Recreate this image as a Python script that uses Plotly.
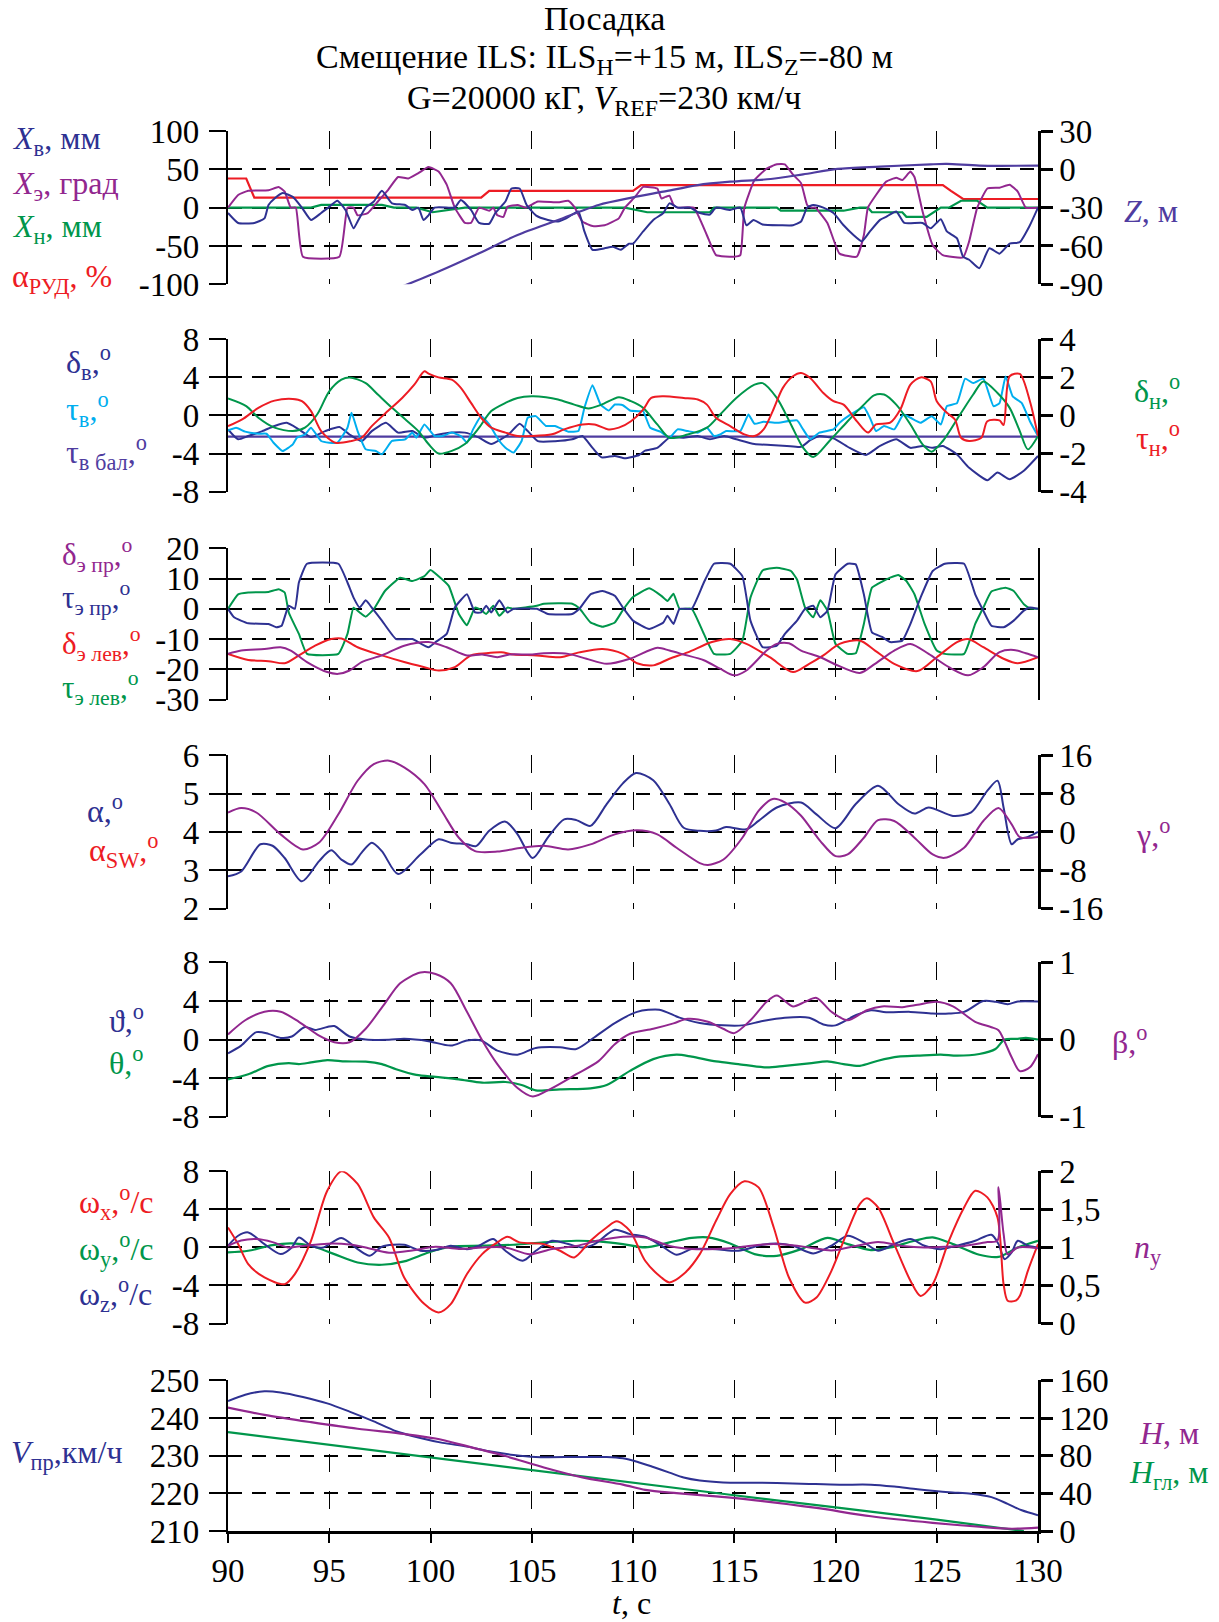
import plotly.graph_objects as go

# ---------------- DATA ----------------
# Panel 1
p1_xv = [(90,-7),(90.5,-20),(91.3,-20),(91.8,-14),(92.0,3.5),(92.3,12),(92.7,19),(93.2,14),(93.65,0),(94.1,-16),(94.6,-7),(95.0,1),(95.4,9),(95.8,-3),(96.2,-27),(96.4,-18),(96.8,0),(97.2,8),(97.6,22),(98.1,5.6),(98.75,3.5),(99.1,-3),(99.4,0),(99.65,-16),(99.9,-10),(100.2,0),(100.9,0),(101.2,0),(101.5,10),(102.0,-3),(102.4,-20),(102.9,-21),(103.2,-7),(103.7,8),(104.0,25),(104.4,25),(104.75,3.5),(105.2,-10),(105.8,-16),(106.3,-18),(106.7,-14),(107.3,-5),(107.6,-31),(108.0,-55),(108.6,-53),(109.0,-51),(109.4,-55),(109.8,-47),(110.0,-47),(110.5,-31),(111.0,-16),(111.5,-7),(111.8,5.6),(112.2,0),(112.8,0),(113.3,-7),(113.8,-9),(114.1,0),(114.8,-3),(115.3,0),(115.6,-23),(115.95,-16),(116.4,-22),(117.3,-23),(117.9,-23),(118.3,-18),(118.6,0),(118.9,3.5),(119.4,0),(119.9,-7),(120.4,-23),(120.9,-36),(121.3,-44),(121.7,-31),(122.2,-16),(122.5,-12),(123.0,-5),(123.4,-20),(124.3,-20),(124.7,-27),(125.2,-15),(125.5,-31),(126.0,-40),(126.3,-64),(126.6,-68),(127.1,-79),(127.6,-53),(128.1,-60),(128.6,-47),(129.1,-45),(129.6,-23),(130,0)]
p1_xe = [(90,0),(90.5,16.5),(91.0,22),(92.0,22.6),(92.5,27),(92.8,21),(93.1,0),(93.35,0),(93.7,-64),(95.5,-64),(95.9,0),(96.2,0),(96.4,-10),(96.9,-7),(97.4,8),(97.9,23),(98.4,40),(98.9,38),(99.4,45),(99.9,53),(100.4,47),(100.8,30),(101.2,0),(101.7,-20),(102.0,-20),(102.4,0),(102.9,-4),(103.1,0),(103.3,-10),(103.6,-12),(103.8,1),(104.3,3.5),(104.7,0),(105.3,8),(106.3,7),(106.8,9),(107.1,1),(107.5,-18),(108.0,-24),(108.6,-23),(109.3,-14),(109.6,0),(110.1,14),(110.5,27),(111.2,25),(111.4,12),(111.6,14),(111.8,15.6),(112.0,3.5),(112.2,0),(113.0,0),(113.65,-36),(114.1,-62),(115.0,-64),(115.3,-62),(115.5,0),(116.0,36),(116.6,51),(117.1,56.5),(117.5,56.5),(117.9,43),(118.3,32),(118.6,3.5),(118.8,0),(119.0,0),(119.6,-20),(120.2,-60),(121.05,-64),(121.4,-36),(121.6,0),(122.0,16.5),(122.5,34),(123.0,39),(123.3,36),(123.7,47),(123.9,40),(124.3,-5),(124.8,-49),(125.3,-62),(126.3,-65),(126.6,-44),(127.0,0),(127.5,25),(128.1,26),(128.6,30),(129.0,21),(129.4,0),(130,0)]
p1_xn = [(90,0),(94.1,0),(94.6,3.5),(97.6,3.5),(98.2,0),(99.3,0),(100.1,-6),(100.7,-4),(101.7,0),(109.6,0),(110.7,-6),(113.8,-6),(114.0,0),(117.1,0),(117.3,-4),(120.4,-4),(121.2,0),(121.6,0),(121.8,-6),(123.3,-6),(123.5,-12),(124.5,-12),(125.2,0),(125.6,0),(126.2,9),(127.0,9),(127.5,0),(130,0)]
p1_arud = [(90,38),(90.9,38),(91.3,13),(102.5,13),(102.9,22),(110.0,22),(110.4,29.5),(125.3,29.5),(125.7,22),(126.3,11.3),(130,11.3)]
p1_z = [(98.4,-93),(100.4,-80),(102.4,-65.7),(104.3,-51.4),(106.3,-39.7),(108.3,-27.9),(110.0,-22),(111.5,-17.5),(113.2,-12.3),(114.8,-9.7),(116.8,-7.6),(118.4,-3.9),(120.1,0.3),(122.2,2.1),(124.7,3.9),(125.5,4.2),(127.1,2.9),(130,2.9)]

# Panel 2
p2_dv = [(90,-1.46),(90.5,-2.5),(91.0,-2.16),(91.7,-1.64),(92.3,-1.1),(92.9,-0.77),(93.5,-1.46),(94.1,-2.26),(94.8,-1.64),(95.5,-1.22),(96.0,-2.0),(96.6,-2.7),(97.1,-1.64),(97.8,-0.77),(98.4,-1.8),(99.1,-1.64),(99.7,-2.33),(100.4,-2.0),(101.05,-1.8),(101.7,-1.8),(102.4,-2.33),(103.0,-3.0),(103.85,-2.0),(104.4,-0.87),(104.8,-1.64),(105.3,-2.7),(106.15,-2.7),(107.0,-2.5),(107.5,-2.16),(108.0,-3.4),(108.45,-4.4),(109.1,-4.25),(109.6,-4.5),(110.3,-4.15),(110.6,-3.7),(111.2,-3.4),(111.8,-2.33),(112.5,-2.33),(113.2,-2.16),(113.8,-2.5),(114.5,-2.16),(115.1,-2.5),(116.0,-3.0),(116.8,-3.1),(117.6,-3.2),(118.3,-3.3),(118.75,-2.6),(119.2,-2.16),(119.9,-2.4),(120.7,-3.4),(121.5,-4.15),(122.2,-3.2),(123.0,-2.5),(123.7,-3.4),(124.3,-3.2),(124.8,-3.4),(125.3,-3.2),(126.0,-4.1),(126.6,-5.5),(127.5,-6.8),(128.0,-6.0),(128.6,-6.7),(129.3,-5.8),(130,-4.25)]
p2_tv = [(90,-1.57),(90.4,-1.29),(90.85,-1.7),(91.5,-1.92),(91.9,-1.92),(92.25,-2.86),(92.7,-3.73),(93.2,-3.03),(93.4,-2.33),(93.8,-2.0),(94.1,-1.29),(94.6,-2.68),(95.0,-2.86),(95.4,-2.86),(95.9,-1.29),(96.1,0.28),(96.4,-1.64),(96.8,-3.55),(97.3,-3.73),(97.6,-4.08),(98.1,-2.68),(98.75,-2.5),(99.1,-1.8),(99.3,-2.33),(99.7,-0.94),(100.2,-2.16),(100.6,-2.16),(101.05,-1.8),(101.5,-2.16),(101.8,-2.86),(102.1,-1.46),(102.5,-0.07),(102.9,-0.94),(103.4,-2.68),(103.7,-3.38),(104.1,-3.9),(104.5,-2.68),(104.8,-0.24),(105.2,-0.07),(105.7,-1.1),(106.15,-1.1),(106.8,-1.7),(107.3,-1.64),(107.6,0.8),(108.0,3.17),(108.4,1.15),(108.8,0.52),(109.1,1.15),(109.5,1.08),(109.85,0.52),(110.3,0.45),(110.5,0.45),(110.85,-1.29),(111.35,-1.7),(111.8,-2.33),(112.2,-1.46),(112.7,-1.64),(113.2,-1.8),(113.65,-1.29),(114.0,-2.16),(114.3,-2.0),(114.6,-1.64),(115.3,-1.64),(115.7,0.1),(116.0,-0.87),(116.45,-0.66),(117.1,-0.77),(118.1,-0.52),(118.4,-1.46),(118.75,-2.5),(119.2,-1.8),(119.9,-1.46),(120.2,-0.77),(120.7,0.03),(121.4,0.87),(121.7,-0.24),(122.0,-1.64),(122.4,-1.1),(122.9,-1.46),(123.35,0.1),(123.7,-0.24),(124.2,-0.77),(124.75,-0.07),(125.2,-0.94),(125.5,0.98),(126.0,1.3),(126.4,3.87),(126.8,3.4),(127.3,3.87),(127.8,0.98),(128.1,1.3),(128.4,4.1),(128.75,2.0),(129.2,1.3),(129.6,-0.6),(130,-2.16)]
p2_tvbal = [(90,-2.23),(130,-2.23)]
p2_dn = [(90,0.89),(90.9,0.49),(91.5,-0.12),(92.3,-0.64),(93.2,-0.82),(93.8,-0.64),(94.4,0.05),(95.0,1.27),(95.6,1.88),(96.0,2.0),(96.8,1.7),(97.4,1.1),(98.1,0.4),(98.75,-0.2),(99.4,-0.82),(99.9,-1.5),(100.4,-2.0),(101.05,-1.86),(101.7,-1.5),(102.4,-0.64),(103.0,0.23),(103.7,0.66),(104.3,0.92),(105.0,1.01),(105.7,0.96),(106.3,0.84),(107.1,0.57),(107.8,0.37),(108.45,0.57),(109.3,0.96),(109.9,0.75),(110.5,0.4),(111.2,-0.47),(111.8,-1.17),(112.7,-1.0),(113.65,-0.64),(114.3,0.05),(115.1,0.92),(116.0,1.62),(116.4,1.7),(117.1,0.92),(117.8,-0.47),(118.4,-1.69),(118.9,-2.18),(119.7,-1.34),(120.6,-0.3),(121.4,0.57),(121.9,1.06),(122.4,1.1),(123.0,0.57),(123.7,-0.47),(124.3,-1.52),(124.75,-1.9),(125.3,-1.34),(126.15,0.05),(126.8,1.1),(127.3,1.79),(128.0,1.18),(128.6,0.4),(129.1,-0.82),(129.5,-1.78),(130,-1.08)]
p2_tn = [(90,-0.56),(90.7,-0.21),(91.5,0.4),(92.3,0.78),(93.2,0.87),(93.65,0.75),(94.1,0.23),(94.6,-0.82),(95.3,-1.43),(96.1,-1.34),(96.6,-1.17),(97.1,-0.56),(97.8,0.14),(98.6,0.92),(99.2,1.62),(99.7,2.32),(99.9,2.2),(100.4,2.0),(101.05,1.88),(101.5,1.45),(102.0,0.66),(102.5,-0.12),(103.0,-0.64),(103.7,-0.9),(104.3,-1.08),(105.0,-1.08),(106.0,-0.99),(106.6,-0.73),(107.5,-0.47),(108.1,-0.47),(108.8,-0.73),(109.3,-0.64),(109.9,-0.3),(110.5,0.31),(110.9,0.92),(111.5,1.01),(112.5,0.92),(113.2,0.84),(113.65,0.57),(114.1,-0.12),(114.8,-0.56),(115.5,-0.99),(116.0,-1.08),(116.45,-0.73),(116.9,0.23),(117.4,1.45),(117.9,2.06),(118.3,2.23),(118.75,1.97),(119.4,1.18),(119.9,0.75),(120.4,0.57),(121.05,-0.3),(121.6,-0.9),(122.0,-0.47),(122.7,-0.38),(123.2,0.31),(123.7,1.62),(124.2,2.0),(124.7,1.79),(125.0,0.75),(125.5,0.14),(125.9,-0.21),(126.2,-1.17),(126.6,-1.34),(127.2,-1.17),(127.5,-0.3),(128.1,-0.26),(128.3,-0.5),(128.6,2.06),(129.1,2.18),(129.6,0.75),(130,-1.08)]

# Panel 3
p3_tepr = [(90,0),(90.3,-2.8),(91.0,-4.8),(92.0,-5),(92.4,-6.1),(92.65,-5.6),(93.0,1),(93.3,0),(93.5,8.7),(93.9,14.9),(95.45,14.9),(95.9,8.7),(96.2,3.7),(96.5,0.4),(96.8,2.8),(97.1,0.4),(97.6,-3.9),(98.3,-10),(99.1,-10),(99.9,-12.7),(100.25,-11),(100.8,-8.3),(101.2,0.4),(101.8,4.8),(102.2,-1.2),(102.5,-1.2),(102.75,1),(103.0,-1.2),(103.4,2.8),(103.8,-1.2),(104.1,0),(105.25,0),(105.8,-1.7),(107.0,-1.7),(107.35,0),(107.9,4.8),(108.5,5.9),(109.1,4.3),(109.5,0.4),(110.0,-3.9),(110.8,-6.7),(111.5,-4.5),(111.7,-2.3),(112.0,-5),(112.3,0),(112.9,0),(113.5,8.7),(114.0,14.9),(114.8,14.9),(115.4,10.8),(115.8,-3.9),(116.4,-12.7),(117.1,-12.2),(117.5,-8.3),(118.1,-3.9),(118.5,0),(118.9,1),(119.25,-2.8),(119.6,-0.6),(120.0,11.4),(120.6,14.9),(121.0,14.7),(121.4,4.8),(121.8,-7.8),(122.3,-9.3),(122.7,-11),(123.3,-10.5),(123.7,-5),(124.2,3.7),(124.8,12.5),(125.4,14.9),(126.35,14.9),(126.9,4.8),(127.3,-0.6),(127.7,-5.6),(128.3,-6.1),(128.8,-3.9),(129.3,-0.6),(129.6,0.4),(130,0)]
p3_telev = [(90,0),(90.5,4.8),(91.0,5.4),(92.0,5.6),(92.5,6.5),(92.8,5.4),(93.0,-1.2),(93.5,-8.3),(93.9,-14.9),(95.45,-14.9),(95.9,-8.3),(96.2,0.4),(96.5,-1.2),(96.8,-2.6),(97.2,-0.1),(97.75,5.9),(98.5,10.3),(99.1,9.2),(99.7,10.8),(100.0,12.8),(100.4,10.8),(100.9,7.6),(101.4,-1.7),(101.8,-5.4),(102.2,0.4),(102.5,-0.4),(102.75,-1.7),(103.1,1),(103.4,-2.3),(103.8,0.4),(104.1,0),(105.25,1),(105.6,1.7),(107.0,1.7),(107.35,0.2),(107.9,-4.5),(108.5,-5.9),(109.1,-4.5),(109.5,-0.4),(110.0,3.9),(110.8,6.8),(111.4,4.3),(111.7,2.6),(112.0,5.0),(112.3,0),(112.9,0),(113.5,-8.3),(114.0,-14.9),(114.8,-14.9),(115.4,-10.5),(115.8,3.7),(116.4,12.7),(117.1,13.6),(117.8,12.5),(118.1,9.7),(118.5,0.4),(118.9,-2.8),(119.25,2.8),(119.6,-0.6),(120.0,-11.6),(120.6,-14.9),(121.0,-14.7),(121.4,-5),(121.8,7),(122.3,9),(122.7,10.3),(123.1,11.2),(123.5,9.2),(123.9,4.8),(124.4,-5),(125.0,-13.8),(125.4,-14.9),(126.35,-14.9),(126.9,-5),(127.3,0.4),(127.7,5.7),(128.4,7),(128.8,5.9),(129.3,1.5),(129.6,0.2),(130,0)]
p3_depr = [(90,-14.9),(90.65,-13.8),(91.8,-13.3),(92.6,-12.7),(93.1,-13.8),(93.9,-17.6),(94.9,-20.9),(95.45,-21.5),(96.0,-20.4),(96.6,-17.6),(97.6,-15.4),(98.7,-12.2),(99.9,-11),(100.8,-12.7),(101.8,-15.4),(102.55,-15.1),(103.3,-16),(103.9,-15.1),(104.9,-15.1),(105.6,-14.7),(106.8,-14.9),(107.7,-16.5),(108.7,-18.2),(109.85,-16.5),(111.2,-12.9),(111.8,-13.8),(112.5,-15.1),(113.5,-17),(114.3,-19.8),(115.0,-22),(115.6,-20.4),(116.6,-13.8),(117.1,-11.6),(117.7,-11.4),(118.3,-13.8),(119.25,-16),(120.0,-18.4),(121.2,-21.2),(121.95,-18.2),(122.9,-13.8),(123.7,-11.6),(124.6,-14.9),(125.6,-19.3),(126.55,-22),(127.3,-19.3),(128.1,-14.3),(128.8,-13.6),(129.4,-14.7),(130,-16)]
p3_delev = [(90,-14.9),(91.0,-16.9),(92.0,-17.3),(92.8,-18),(93.5,-15.4),(94.3,-12.2),(95.1,-10),(95.6,-9.8),(96.4,-12.7),(97.6,-15.4),(98.7,-17.6),(99.7,-19.3),(100.4,-20.4),(101.2,-19.3),(102.0,-15.4),(102.75,-14.7),(103.5,-14.4),(104.1,-15.1),(105.25,-15.4),(106.4,-16),(107.35,-14.4),(108.5,-13.3),(109.5,-14.9),(110.2,-18),(111.0,-18.7),(111.8,-16.5),(112.7,-14.4),(113.9,-11),(114.8,-10),(115.6,-11.6),(116.75,-16),(117.9,-20.9),(118.7,-18.2),(119.4,-15.4),(120.2,-11.6),(121.2,-10.5),(121.95,-13.8),(122.9,-18.2),(124.05,-20.6),(125.0,-16),(126.0,-11),(126.55,-10),(127.3,-12.7),(128.3,-16.5),(129.0,-18),(130,-16)]

# Panel 4
p4_alpha = [(90,2.84),(90.65,2.97),(91.6,3.68),(92.2,3.64),(92.8,3.32),(93.65,2.71),(94.5,3.24),(95.1,3.52),(95.6,3.28),(96.1,3.15),(96.6,3.46),(97.1,3.72),(97.6,3.5),(98.4,2.9),(99.5,3.41),(100.4,3.81),(101.0,3.72),(101.8,3.68),(102.25,3.63),(102.9,4.03),(103.7,4.27),(104.3,3.94),(105.05,3.32),(105.8,3.86),(106.6,4.33),(107.2,4.31),(107.9,4.16),(108.7,4.73),(109.5,5.27),(110.15,5.54),(111.0,5.35),(111.8,4.73),(112.5,4.11),(113.3,4.03),(114.1,4.04),(114.6,4.13),(115.6,4.07),(116.2,4.29),(117.1,4.64),(118.3,4.77),(119.06,4.46),(120.0,4.1),(121.0,4.73),(122.1,5.21),(123.1,4.73),(123.9,4.48),(124.6,4.64),(125.8,4.42),(126.7,4.51),(127.5,5.08),(128.0,5.34),(128.3,4.64),(128.7,3.68),(129.0,3.81),(129.5,3.87),(130,4.0)]
p4_gamma = [(90,4.07),(90.65,5.0),(91.4,4.07),(92.6,-0.5),(93.7,-3.65),(94.5,-2.2),(95.45,3.7),(96.4,10.7),(97.2,14.2),(97.95,14.9),(98.7,13.5),(99.7,10.0),(100.6,4.07),(101.4,-1.2),(102.2,-4.0),(103.3,-4.1),(104.5,-3.3),(105.6,-2.9),(106.8,-3.65),(107.9,-2.6),(109.1,-0.5),(110.2,0.35),(111.2,-0.5),(112.15,-3.3),(113.3,-6.5),(113.7,-6.9),(114.45,-5.8),(115.4,-1.2),(116.2,4.4),(116.9,6.9),(117.5,6.2),(118.3,3.4),(119.25,-1.9),(120.0,-5.05),(120.6,-4.7),(121.4,-1.2),(122.1,2.46),(122.9,2.3),(123.9,-1.2),(124.8,-4.7),(125.4,-5.4),(126.35,-3.3),(127.3,2.3),(128.05,5.0),(128.7,1.6),(129.1,-1.05),(130,-1.05)]

# Panel 5
p5_pitch = [(90,-1.43),(90.65,-0.63),(91.4,0.77),(92.0,0.59),(92.6,0.17),(93.15,0.31),(93.8,1.3),(94.3,1.0),(94.9,1.3),(95.25,1.4),(96.0,0.31),(96.8,0),(97.95,-0.03),(98.7,0.07),(99.9,-0.17),(101.0,-0.63),(101.8,-0.1),(102.5,-0.1),(103.3,-1.15),(104.3,-1.57),(105.2,-0.87),(106.4,-0.8),(107.2,-0.98),(108.1,0.24),(109.1,1.71),(110.2,2.87),(111.3,3.1),(112.3,2.27),(113.3,1.71),(114.45,1.47),(115.4,1.47),(116.4,1.92),(117.5,2.27),(118.7,2.27),(119.4,1.57),(120.0,1.47),(121.0,2.52),(121.75,3.04),(122.5,2.83),(123.7,2.87),(124.8,2.7),(125.6,2.7),(126.35,2.87),(127.3,4.0),(127.9,3.92),(128.5,3.67),(129.0,3.95),(130,3.95)]
p5_theta = [(90,-4.13),(91.0,-3.6),(92.0,-2.73),(93.0,-2.45),(93.5,-2.55),(94.1,-2.38),(94.9,-2.13),(95.8,-2.27),(96.8,-2.3),(97.6,-2.55),(98.3,-3.08),(99.3,-3.67),(100.25,-3.88),(101.4,-4.13),(102.55,-4.48),(103.7,-4.41),(104.5,-4.72),(105.2,-5.28),(106.4,-5.17),(107.9,-5.07),(108.7,-4.72),(109.85,-3.25),(111.0,-2.03),(112.15,-1.57),(112.9,-1.78),(114.1,-2.27),(115.2,-2.55),(116.6,-2.9),(117.5,-2.73),(118.7,-2.48),(119.6,-2.27),(120.4,-2.55),(121.2,-2.73),(122.1,-2.2),(123.1,-1.78),(124.05,-1.68),(125.2,-1.57),(126.0,-1.68),(127.1,-1.5),(127.9,-0.98),(128.35,0),(129.0,0.07),(129.4,0.17),(130,0)]
p5_beta = [(90,0.066),(90.85,0.25),(91.8,0.36),(92.6,0.36),(93.5,0.23),(94.5,0.05),(95.25,-0.035),(96.0,-0.035),(96.8,0.14),(97.75,0.47),(98.5,0.73),(99.5,0.87),(100.25,0.85),(101.0,0.73),(101.8,0.36),(102.55,-0.01),(103.3,-0.32),(104.3,-0.63),(105.05,-0.74),(106.0,-0.63),(107.2,-0.45),(108.3,-0.28),(109.1,-0.06),(109.85,0.075),(111.0,0.14),(112.0,0.21),(112.7,0.27),(113.7,0.23),(114.45,0.14),(115.0,0.083),(115.8,0.25),(116.6,0.49),(117.1,0.57),(117.9,0.43),(118.5,0.49),(119.06,0.54),(119.8,0.36),(120.6,0.25),(121.55,0.38),(122.3,0.43),(123.3,0.42),(124.05,0.45),(125.0,0.49),(125.8,0.43),(126.9,0.23),(127.7,0.16),(128.05,0.12),(128.7,-0.23),(129.1,-0.41),(129.6,-0.36),(130,-0.19)]

# Panel 6
p6_wx = [(90,2.1),(90.5,0.35),(91.0,-1.75),(91.8,-3.16),(92.8,-3.86),(93.3,-2.8),(94.1,0.7),(94.9,5.96),(95.6,8.0),(96.4,6.67),(97.2,3.16),(97.95,1.05),(98.7,-3.16),(99.7,-5.96),(100.4,-6.84),(101.0,-5.96),(101.8,-2.8),(102.55,-0.7),(103.3,0.53),(103.8,1.12),(104.4,0.53),(105.6,0.35),(106.4,-0.35),(107.1,-1.05),(107.9,0.7),(108.7,2.1),(109.2,2.74),(109.85,1.75),(110.6,-1.4),(111.4,-3.16),(111.8,-3.68),(112.5,-2.8),(113.3,-0.7),(114.1,2.8),(114.8,5.6),(115.5,6.95),(116.2,6.32),(116.95,2.1),(117.7,-3.16),(118.5,-5.8),(119.06,-5.26),(119.8,-2.46),(120.6,1.75),(121.2,4.56),(121.55,5.16),(122.1,4.21),(122.9,0.35),(123.7,-3.5),(124.2,-5.1),(124.8,-3.86),(125.6,0.7),(126.35,4.2),(126.9,5.96),(127.5,5.26),(128.0,3.16),(128.3,-3.86),(128.5,-5.6),(128.9,-5.6),(129.1,-5.1),(129.5,-2.46),(130,0.35)]
p6_wy = [(90,-0.53),(91.0,-0.35),(92.2,0.25),(93.15,0.42),(94.1,0.18),(95.25,-0.7),(96.4,-1.58),(97.6,-1.82),(98.7,-1.47),(99.9,-0.53),(101.0,0.07),(102.55,0.18),(104.1,0.28),(105.6,0.53),(107.2,0.7),(108.3,0.63),(109.5,0.35),(110.6,0),(111.8,0.53),(112.9,1.0),(113.7,1.05),(114.8,0.42),(116.0,-0.7),(117.1,-0.88),(118.3,-0.18),(119.6,1.0),(120.6,0.35),(121.75,-0.28),(122.7,0),(123.9,0.7),(124.8,1.05),(125.8,0.35),(127.1,-0.77),(128.05,-1.0),(129.0,0),(130,0.7)]
p6_wz = [(90,0.18),(90.5,1.23),(91.0,1.58),(91.8,0.35),(92.6,-0.7),(93.15,0),(93.5,1.05),(94.1,0.18),(94.7,0),(95.6,1.0),(96.4,-0.18),(97.0,-0.88),(97.6,0.07),(98.7,0.28),(99.5,-0.35),(100.25,-0.28),(101.0,0.18),(101.8,-0.18),(102.4,0.18),(103.1,0.88),(103.7,-0.35),(104.55,-1.4),(105.2,-0.35),(106.0,0.7),(106.8,0.35),(107.5,0),(108.1,0.35),(109.1,1.86),(109.85,1.4),(110.6,1.12),(111.4,0.18),(112.15,-0.77),(112.9,-0.18),(114.1,-0.18),(115.2,-0.35),(116.4,0.28),(117.1,0.42),(117.9,0.18),(118.9,-0.63),(119.8,0.18),(120.6,1.23),(121.4,0.53),(122.1,-0.35),(122.9,0.35),(123.7,0.88),(124.4,0.18),(125.2,-0.18),(126.0,0.18),(126.9,0.7),(127.7,1.33),(128.05,0.35),(128.35,-1.23),(128.7,-0.53),(129.0,0.7),(129.5,0.18),(130,0)]
p6_ny = [(90,1.02),(90.65,1.09),(91.4,1.11),(92.2,1.07),(92.95,1.0),(93.7,1.02),(94.9,1.05),(96.0,1.04),(96.8,1.0),(97.95,0.93),(99.1,0.96),(100.25,1.01),(101.4,0.98),(102.55,1.0),(103.7,1.0),(104.9,0.91),(106.0,0.98),(107.2,1.02),(108.3,1.09),(109.5,1.14),(110.6,1.13),(111.8,1.02),(112.9,0.98),(114.1,0.98),(115.2,1.0),(116.4,1.04),(117.5,1.04),(118.7,1.0),(119.8,0.96),(121.0,1.02),(122.1,1.07),(123.3,1.02),(124.4,1.0),(125.4,1.01),(126.35,1.02),(127.5,1.07),(128.0,1.09),(128.05,1.79),(128.3,1.18),(128.5,0.91),(129.0,1.0),(130,0.99)]

# Panel 7
p7_v = [(90,244.5),(90.85,246.2),(91.8,247.1),(92.6,246.8),(93.7,245.6),(94.9,243.9),(96.0,241.7),(97.2,239.1),(98.3,236.5),(99.5,234.7),(100.6,233.4),(101.8,232.4),(102.9,231.2),(104.1,230.2),(105.2,229.65),(107.2,229.65),(108.7,229.65),(109.5,229.3),(110.2,228.4),(111.0,227.0),(111.8,225.5),(112.5,224.2),(113.3,223.4),(114.45,222.9),(115.6,222.8),(117.1,222.75),(118.7,222.5),(120.2,222.3),(121.75,222.3),(122.9,221.8),(124.05,221.1),(125.6,220.3),(126.7,219.9),(127.7,219.0),(128.5,217.2),(129.2,215.5),(130,214.2)]
p7_h = [(90,131),(91.8,123.3),(94.1,115.6),(96.4,108.6),(98.7,103.0),(100.25,98.2),(101.8,90.1),(103.7,79.6),(105.6,67.4),(107.5,56.9),(109.5,49.3),(110.6,43.7),(112.15,40.2),(114.1,36.7),(116.4,31.8),(119.06,24.5),(121.75,15.7),(124.8,8.7),(127.1,4.5),(128.7,2.4),(130,3.5)]
p7_hgl = [(90,105),(95,91.5),(100,78),(105,64.5),(110,51),(115,38),(120,25),(125,12),(129.3,0)]

# Axis ticks
x_ticks = [90, 95, 100, 105, 110, 115, 120, 125, 130]

# ---------------- STYLE ----------------
FONT = "Liberation Serif"
BLUE = "#2E3192"
PURPLE = "#92278F"
GREEN = "#00964B"
RED = "#ED1C24"
CYAN = "#00AEEF"
INDIGO = "#4F3CA0"

W, H = 1219, 1622
L_PX, R_PX = 227.7, 1038.0
TOP_PX, BOT_PX = 131.0, 1531.0
TICK = 33

panels = [
    dict(dom=(0.8905, 1.0), yl=([-100, 100], [-100, -50, 0, 50, 100], None),
         yr=([-90, 30], [-90, -60, -30, 0, 30], None)),
    dict(dom=(0.7424, 0.8512), yl=([-8, 8], [-8, -4, 0, 4, 8], None),
         yr=([-4, 4], [-4, -2, 0, 2, 4], None)),
    dict(dom=(0.5939, 0.7019), yl=([-30, 20], [-30, -20, -10, 0, 10, 20], None), yr=None),
    dict(dom=(0.4446, 0.5540), yl=([2, 6], [2, 3, 4, 5, 6], None),
         yr=([-16, 16], [-16, -8, 0, 8, 16], None)),
    dict(dom=(0.2960, 0.4061), yl=([-8, 8], [-8, -4, 0, 4, 8], None),
         yr=([-1, 1], [-1, 0, 1], None)),
    dict(dom=(0.1482, 0.2569), yl=([-8, 8], [-8, -4, 0, 4, 8], None),
         yr=([0, 2], [0, 0.5, 1, 1.5, 2], ["0", "0,5", "1", "1,5", "2"])),
    dict(dom=(0.0, 0.1076), yl=([210, 250], [210, 220, 230, 240, 250], None),
         yr=([0, 160], [0, 40, 80, 120, 160], None)),
]


def labels(vals, txt):
    return txt if txt is not None else [str(v) for v in vals]  # ASCII hyphen minus


fig = go.Figure()
layout = dict(width=W, height=H, paper_bgcolor="white", plot_bgcolor="white",
              showlegend=False,
              margin=dict(l=L_PX, r=W - R_PX, t=TOP_PX, b=H - BOT_PX, pad=0),
              font=dict(family=FONT, size=32, color="black"))


def axname(prefix, i):
    return prefix if i == 1 else f"{prefix}{i}"


for p, cfg in enumerate(panels):
    xi = p + 1
    yl = 2 * p + 1
    yr = 2 * p + 2
    last = p == len(panels) - 1
    layout[axname("xaxis", xi)] = dict(
        domain=[0, 1], anchor=axname("y", yl), range=[90, 130],
        tickvals=x_ticks, ticktext=[str(v) for v in x_ticks],
        showgrid=True, gridcolor="black", gridwidth=1.3,
        griddash="18px,19px", zeroline=False,
        showline=last, linecolor="black", linewidth=2.5,
        ticks="outside" if last else "", ticklen=9, tickwidth=1.5, tickcolor="black",
        showticklabels=last, tickfont=dict(family=FONT, size=TICK),
        ticklabelstandoff=0,
    )
    rng, tv, tt = cfg["yl"]
    layout[axname("yaxis", yl)] = dict(
        domain=list(cfg["dom"]), anchor=axname("x", xi), range=rng,
        tickvals=tv, ticktext=labels(tv, tt), ticks="outside", ticklen=17, tickwidth=2.2,
        tickcolor="black", showline=True, linecolor="black", linewidth=2.2,
        mirror=(cfg["yr"] is None), showgrid=True, gridcolor="black", gridwidth=1.5,
        griddash="14px,10px", zeroline=False, tickfont=dict(family=FONT, size=TICK),
        ticklabelstandoff=3,
    )
    if cfg["yr"] is not None:
        rng, tv, tt = cfg["yr"]
        layout[axname("yaxis", yr)] = dict(
            overlaying=axname("y", yl), side="right", anchor=axname("x", xi),
            range=rng, tickvals=tv, ticktext=labels(tv, tt), ticks="outside", ticklen=12,
            tickwidth=2.5, tickcolor="black", showline=True, linecolor="black",
            linewidth=2.5, showgrid=False, zeroline=False,
            tickfont=dict(family=FONT, size=TICK), ticklabelstandoff=0,
        )


def add(series, panel, right, color, width=2.0, shape="linear", smooth=0.8):
    xs = [a for a, _ in series]
    ys = [b for _, b in series]
    xi = panel + 1
    yi = 2 * panel + (2 if right else 1)
    line = dict(color=color, width=width, shape=shape)
    if shape == "spline":
        line["smoothing"] = smooth
    fig.add_trace(go.Scatter(x=xs, y=ys, mode="lines", line=line,
                             xaxis=axname("x", xi), yaxis=axname("y", yi), hoverinfo="skip"))


# panel 1
add(p1_arud, 0, False, RED, 2.2)
add(p1_xn, 0, False, GREEN, 2.2)
add(p1_xe, 0, False, PURPLE, 2.0, "spline", 0.4)
add(p1_xv, 0, False, BLUE, 2.0, "spline", 0.5)
add(p1_z, 0, True, INDIGO, 2.2, "spline")
# panel 2
add(p2_tvbal, 1, False, INDIGO, 2.2)
add(p2_dv, 1, False, BLUE, 2.0, "spline", 0.5)
add(p2_tv, 1, False, CYAN, 2.0, "spline", 0.4)
add(p2_dn, 1, True, GREEN, 2.0, "spline")
add(p2_tn, 1, True, RED, 2.0, "spline")
# panel 3
add(p3_telev, 2, False, GREEN, 2.0, "spline", 0.4)
add(p3_tepr, 2, False, BLUE, 2.0, "spline", 0.4)
add(p3_delev, 2, False, RED, 2.0, "spline")
add(p3_depr, 2, False, PURPLE, 2.0, "spline")
# panel 4
add(p4_gamma, 3, True, PURPLE, 2.0, "spline")
add(p4_alpha, 3, False, BLUE, 2.0, "spline")
# panel 5
add(p5_theta, 4, False, GREEN, 2.2, "spline")
add(p5_beta, 4, True, PURPLE, 2.0, "spline")
add(p5_pitch, 4, False, BLUE, 2.0, "spline")
# panel 6
add(p6_wy, 5, False, GREEN, 2.2, "spline")
add(p6_ny, 5, True, PURPLE, 2.0, "spline")
add(p6_wz, 5, False, BLUE, 2.0, "spline")
add(p6_wx, 5, False, RED, 2.0, "spline")
# panel 7
add(p7_hgl, 6, True, GREEN, 2.2)
add(p7_h, 6, True, PURPLE, 2.2, "spline")
add(p7_v, 6, False, BLUE, 2.0, "spline")

# ---------------- TEXT ----------------
anns = []
LAB = 32


def ann(text, x_px, y_px, color="black", size=LAB, xanchor="left"):
    anns.append(dict(
        text=text, x=(x_px - L_PX) / (R_PX - L_PX), y=(BOT_PX - y_px) / (BOT_PX - TOP_PX),
        xref="paper", yref="paper", xanchor=xanchor, yanchor="middle",
        showarrow=False, font=dict(family=FONT, size=size, color=color)))


# title
ann("Посадка", 604, 19, size=34, xanchor="center")
ann("Смещение ILS: ILS<sub>H</sub>=+15 м, ILS<sub>Z</sub>=-80 м", 604, 59, size=34, xanchor="center")
ann("G=20000 кГ, <i>V</i><sub>REF</sub>=230 км/ч", 604, 100, size=34, xanchor="center")

# panel 1
ann("<i>X</i><sub>в</sub>, мм", 10, 140, BLUE)
ann("<i>X</i><sub>э</sub>, град", 10, 185, PURPLE)
ann("<i>X</i><sub>н</sub>, мм", 10, 228, GREEN)
ann("α<sub>РУД</sub>, %", 10, 278, RED)
ann("<i>Z</i>, м", 1122, 211, INDIGO)
# panel 2
ann("δ<sub>в</sub>,<sup>o</sup>", 64, 362, BLUE)
ann("τ<sub>в</sub>,<sup>o</sup>", 64, 409, CYAN)
ann("τ<sub>в бал</sub>,<sup>o</sup>", 64, 452, INDIGO)
ann("δ<sub>н</sub>,<sup>o</sup>", 1132, 391, GREEN)
ann("τ<sub>н</sub>,<sup>o</sup>", 1134, 439, RED)
# panel 3
ann("δ<sub>э пр</sub>,<sup>o</sup>", 60, 555, PURPLE, 31)
ann("τ<sub>э пр</sub>,<sup>o</sup>", 60, 598, BLUE, 31)
ann("δ<sub>э лев</sub>,<sup>o</sup>", 60, 644, RED, 31)
ann("τ<sub>э лев</sub>,<sup>o</sup>", 60, 688, GREEN, 31)
# panel 4
ann("α,<sup>o</sup>", 85, 809, BLUE)
ann("α<sub>SW</sub>,<sup>o</sup>", 87, 851, RED)
ann("γ,<sup>o</sup>", 1134, 833, PURPLE)
# panel 5
ann("ϑ,<sup>o</sup>", 107, 1019, BLUE)
ann("θ,<sup>o</sup>", 107, 1061, GREEN)
ann("β,<sup>o</sup>", 1110, 1040, PURPLE)
# panel 6
ann("ω<sub>x</sub>,<sup>o</sup>/c", 77, 1202, RED)
ann("ω<sub>y</sub>,<sup>o</sup>/c", 77, 1249, GREEN)
ann("ω<sub>z</sub>,<sup>o</sup>/c", 77, 1294, BLUE)
ann("<i>n</i><sub>y</sub>", 1132, 1249, PURPLE)
# panel 7
ann("<i>V</i><sub>пр</sub>,км/ч", 9, 1454, BLUE)
ann("<i>H</i>, м", 1137, 1433, PURPLE)
ann("<i>H</i><sub>гл</sub>, м", 1127, 1474, GREEN)
# x title
ann("<i>t</i>, c", 631, 1603, size=32, xanchor="center")

layout["annotations"] = anns
fig.update_layout(**layout)
fig.write_html(
    "out.html",
    config={"displayModeBar": False},
    post_script="document.body.style.margin='0';document.body.style.overflow='hidden';"
                "document.documentElement.style.overflow='hidden';",
)
